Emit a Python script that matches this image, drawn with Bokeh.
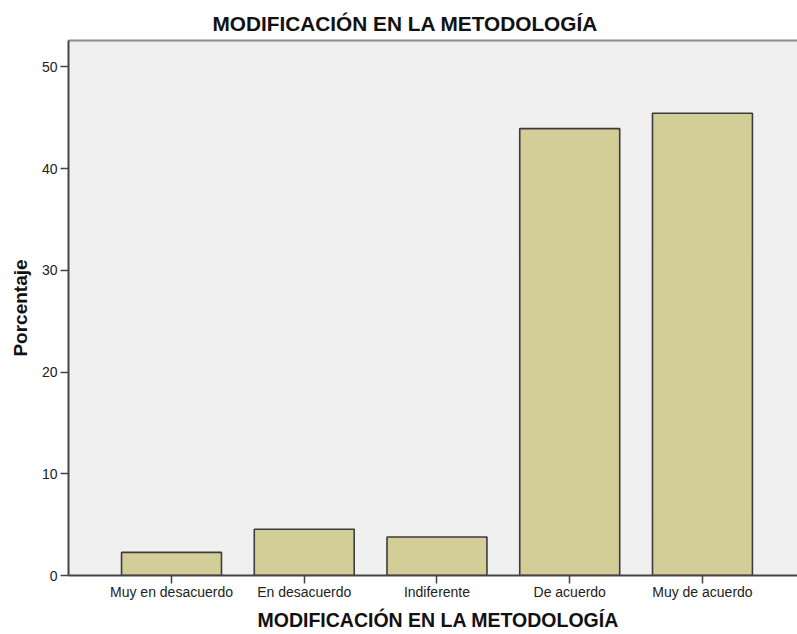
from bokeh.plotting import figure
from bokeh.models import Range1d, FixedTicker, LinearAxis, Title, ColumnDataSource
from bokeh.embed import file_html
from bokeh.resources import INLINE

categories = ["Muy en desacuerdo", "En desacuerdo", "Indiferente", "De acuerdo", "Muy de acuerdo"]
percentages = [2.27, 4.55, 3.79, 43.94, 45.45]
y_ticks = [0, 10, 20, 30, 40, 50]
title_text = "MODIFICACIÓN EN LA METODOLOGÍA"
x_label = "MODIFICACIÓN EN LA METODOLOGÍA"
y_label = "Porcentaje"

FONT = "Liberation Sans"
positions = list(range(len(categories)))

src = ColumnDataSource(dict(x=positions, top=percentages, cat=categories))

p = figure(width=797, height=634,
           x_range=Range1d(-0.776, 4.716), y_range=Range1d(0, 52.6),
           output_backend="svg", toolbar_location=None,
           min_border_left=68, min_border_right=0, min_border_top=40, min_border_bottom=58)

xa = p.below[0]
ya = p.left[0]

p.title = Title(text=title_text, align="left", offset=144,
                text_font=FONT, text_font_size="20.8px", text_font_style="bold",
                text_color="#111111", standoff=12)

p.background_fill_color = "#F0F0F0"
p.border_fill_color = "white"
p.outline_line_color = None
p.xgrid.visible = False
p.ygrid.visible = False

p.vbar(x="x", top="top", width=0.753, bottom=0, source=src,
       fill_color="#D3CE98", line_color="#3C3C3C", line_width=1.6)

# top border line
top_axis = LinearAxis(ticker=FixedTicker(ticks=[]), axis_line_color="#8A8A8A",
                      axis_line_width=2, major_tick_line_color=None, minor_tick_line_color=None,
                      major_label_text_font_size="0px", major_label_standoff=0)
p.add_layout(top_axis, "above")

xa.ticker = FixedTicker(ticks=positions)
xa.major_label_overrides = {i: c for i, c in zip(positions, categories)}
ya.ticker = FixedTicker(ticks=y_ticks)
ya.axis_label = y_label

for ax in (xa, ya):
    ax.axis_line_color = "#444444"
    ax.axis_line_width = 2
    ax.major_tick_line_color = "#444444"
    ax.major_tick_line_width = 1.5
    ax.major_tick_out = 8
    ax.major_tick_in = 0
    ax.minor_tick_line_color = None
    ax.major_label_text_font = FONT
    ax.major_label_text_font_size = "14px"
    ax.major_label_text_color = "#222222"
    ax.major_label_standoff = 3
    ax.axis_label_text_font = FONT
    ax.axis_label_text_font_style = "bold"
    ax.axis_label_text_font_size = "19px"
    ax.axis_label_text_color = "#111111"

xa.major_label_standoff = 0
ya.axis_label_standoff = 8

xlab = Title(text=x_label, align="left", offset=189,
             text_font=FONT, text_font_size="19.5px", text_font_style="bold",
             text_color="#111111", standoff=8)
p.add_layout(xlab, "below")

open("out.html", "w").write(file_html(p, INLINE))
